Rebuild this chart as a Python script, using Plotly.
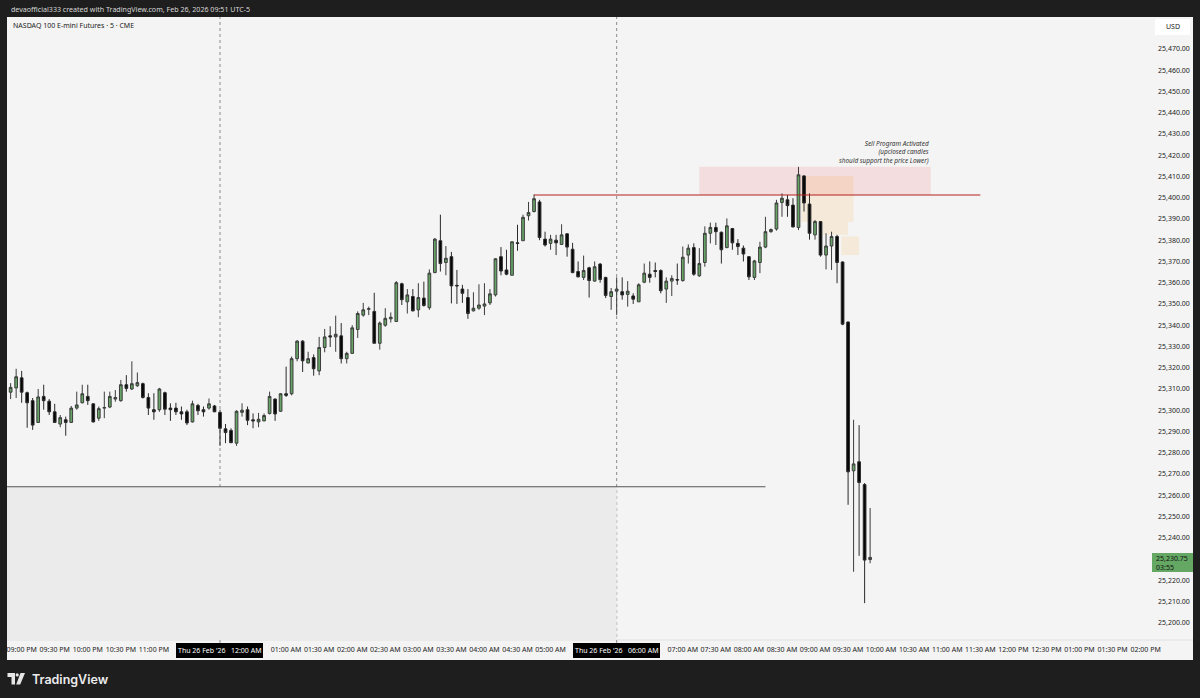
import pandas as pd
import plotly.graph_objects as go

# ---------------- data (NQ 5-minute bars) ----------------
start_time = "2026-02-25 20:45"
opens = [25307.75, 25308.5, 25310.5, 25315.25, 25308.25, 25304.5, 25294.25, 25306.5, 25304.25, 25299.25,
         25293.5, 25295.5, 25294.25, 25301.0, 25303.5, 25306.5, 25303.0, 25296.25, 25301.0, 25301.5,
         25305.25, 25304.5, 25312.0, 25310.0, 25311.5, 25312.5, 25306.0, 25300.25, 25300.25, 25308.25,
         25301.0, 25301.0, 25299.25, 25299.25, 25294.5, 25302.25, 25300.25, 25301.0, 25302.0,
         25299.0, 25291.25, 25290.5, 25284.5, 25299.0, 25300.25, 25295.5, 25294.5, 25295.0, 25298.5,
         25305.25, 25299.5, 25307.75, 25307.75, 25324.25, 25332.5, 25322.25, 25324.75, 25318.5, 25329.5,
         25335.0, 25334.5, 25335.0, 25324.25, 25326.75, 25338.0, 25344.75, 25347.5, 25346.5, 25331.5,
         25340.0, 25343.0, 25341.75, 25359.5, 25351.0, 25353.5, 25347.25, 25352.75, 25348.25, 25364.75,
         25379.75, 25369.5, 25372.25, 25358.75, 25357.0, 25353.0, 25346.75, 25348.0, 25349.0, 25350.5,
         25354.25, 25372.25, 25366.0, 25363.5, 25378.75, 25379.75, 25391.5, 25393.5, 25398.0, 25380.5,
         25378.5, 25380.0, 25378.0, 25383.0, 25375.75, 25365.25, 25362.5, 25367.0, 25360.75, 25368.75,
         25362.5, 25353.5, 25356.0, 25355.75, 25354.5, 25353.75, 25351.0, 25360.25, 25364.0, 25365.75,
         25365.75, 25357.0, 25360.75, 25361.5, 25361.0, 25373.0, 25376.5, 25363.25, 25369.5, 25383.25,
         25386.0, 25383.75, 25376.5, 25385.5, 25378.5, 25376.25, 25372.25, 25362.5, 25369.5, 25376.75,
         25384.0, 25385.25, 25397.75, 25399.0, 25396.5, 25386.0, 25410.25, 25397.0, 25382.5, 25388.75,
         25373.0, 25377.25, 25381.75, 25369.75, 25341.5, 25271.5, 25275.75, 25265.0, 25229.75]
highs = [25311.0, 25312.75, 25319.5, 25318.5, 25308.75, 25305.75, 25310.0, 25312.0, 25305.25, 25303.0,
         25297.75, 25297.0, 25302.0, 25308.75, 25312.0, 25312.0, 25303.25, 25301.75, 25308.75, 25308.75,
         25309.5, 25314.25, 25316.5, 25323.0, 25317.75, 25313.0, 25308.0, 25308.0, 25310.5, 25308.75,
         25303.25, 25303.5, 25301.75, 25300.25, 25304.5, 25303.0, 25301.75, 25305.5, 25302.5,
         25300.25, 25293.5, 25291.5, 25300.0, 25303.25, 25301.75, 25298.5, 25298.75, 25298.5, 25308.75,
         25305.5, 25308.0, 25320.5, 25325.25, 25333.0, 25333.0, 25327.5, 25326.25, 25334.5, 25338.25,
         25339.5, 25344.5, 25341.0, 25327.5, 25340.0, 25346.5, 25350.5, 25348.75, 25355.25, 25341.75,
         25348.0, 25346.0, 25360.75, 25360.0, 25357.0, 25357.0, 25359.75, 25360.5, 25366.25, 25381.0,
         25392.0, 25377.25, 25374.5, 25366.0, 25359.0, 25357.0, 25355.5, 25359.25, 25359.75, 25357.0,
         25371.5, 25376.75, 25375.5, 25379.25, 25387.25, 25392.0, 25398.0, 25401.5, 25399.0, 25384.0,
         25382.5, 25382.5, 25387.5, 25383.25, 25378.75, 25370.0, 25372.75, 25367.5, 25370.0, 25369.25,
         25362.75, 25357.5, 25362.5, 25362.5, 25360.75, 25355.0, 25359.75, 25369.0, 25370.0, 25369.5,
         25366.25, 25362.5, 25363.5, 25369.0, 25377.0, 25378.0, 25378.5, 25376.25, 25386.5, 25388.25,
         25388.25, 25384.0, 25390.25, 25385.75, 25380.5, 25377.5, 25372.5, 25370.75, 25379.25, 25391.0,
         25385.5, 25399.0, 25402.0, 25401.25, 25399.75, 25414.5, 25410.5, 25402.0, 25389.5, 25389.0,
         25383.25, 25384.0, 25382.5, 25370.0, 25341.75, 25295.5, 25293.0, 25265.75, 25254.0]
lows = [25306.0, 25305.25, 25305.75, 25303.5, 25291.75, 25290.75, 25294.25, 25300.25, 25297.75, 25294.0,
        25292.0, 25288.0, 25294.0, 25300.25, 25303.25, 25302.5, 25294.25, 25295.0, 25296.25, 25301.0,
        25304.0, 25304.0, 25308.75, 25309.5, 25311.0, 25305.5, 25297.75, 25295.5, 25299.25, 25297.75,
        25295.0, 25297.75, 25295.5, 25293.0, 25294.25, 25297.75, 25297.0, 25300.25, 25299.25,
        25283.25, 25284.5, 25284.5, 25283.25, 25297.0, 25293.0, 25291.5, 25292.0, 25294.75, 25298.0,
        25295.0, 25299.25, 25306.25, 25307.0, 25323.0, 25318.0, 25322.0, 25316.25, 25316.5, 25327.25,
        25329.75, 25327.5, 25322.0, 25322.0, 25326.5, 25334.0, 25344.0, 25344.75, 25331.5, 25328.5,
        25339.25, 25341.25, 25341.5, 25349.5, 25345.5, 25346.5, 25343.75, 25348.75, 25347.25, 25364.5,
        25365.25, 25363.5, 25350.25, 25350.0, 25350.5, 25343.0, 25346.5, 25347.25, 25344.75, 25349.5,
        25353.5, 25363.5, 25363.5, 25363.5, 25375.0, 25379.75, 25389.25, 25393.0, 25380.0, 25377.0,
        25375.5, 25373.0, 25377.75, 25372.25, 25364.5, 25362.5, 25361.25, 25353.0, 25360.5, 25360.0,
        25352.75, 25347.25, 25344.75, 25352.0, 25348.75, 25350.0, 25351.0, 25359.75, 25360.0, 25362.5,
        25355.0, 25350.5, 25353.75, 25359.0, 25360.5, 25369.0, 25363.25, 25362.75, 25367.5, 25378.5,
        25377.75, 25369.0, 25376.25, 25375.5, 25373.0, 25370.0, 25361.25, 25361.25, 25364.5, 25376.25,
        25383.5, 25384.5, 25391.0, 25391.0, 25386.0, 25384.75, 25393.5, 25380.25, 25380.25, 25372.25,
        25366.25, 25366.0, 25359.75, 25340.0, 25255.5, 25224.0, 25231.5, 25209.25, 25228.0]
closes = [25310.0, 25310.75, 25315.75, 25308.5, 25303.5, 25293.0, 25306.25, 25304.5, 25299.25, 25294.25,
          25296.5, 25294.25, 25301.0, 25302.5, 25307.75, 25304.5, 25294.5, 25300.75, 25301.25, 25306.5,
          25306.0, 25312.0, 25310.25, 25312.5, 25313.0, 25306.0, 25301.0, 25299.25, 25310.0, 25300.5,
          25300.25, 25299.25, 25298.25, 25294.0, 25303.0, 25299.75, 25299.25, 25303.0, 25299.25,
          25291.5, 25289.5, 25284.75, 25299.5, 25300.0, 25295.25, 25295.0, 25295.75, 25297.5, 25306.5,
          25298.25, 25307.75, 25307.0, 25324.25, 25332.5, 25323.25, 25324.25, 25319.5, 25329.5, 25334.5,
          25334.5, 25335.75, 25324.25, 25326.75, 25338.75, 25345.5, 25347.25, 25347.75, 25331.5, 25341.0,
          25343.25, 25343.75, 25360.0, 25352.0, 25354.25, 25346.75, 25353.0, 25349.25, 25364.5, 25380.5,
          25369.0, 25371.5, 25358.5, 25358.5, 25355.0, 25345.5, 25348.0, 25349.5, 25350.0, 25354.75,
          25371.25, 25365.5, 25364.0, 25379.25, 25378.5, 25390.75, 25393.0, 25399.5, 25381.25, 25377.75,
          25380.5, 25378.75, 25382.5, 25376.75, 25364.75, 25362.75, 25365.75, 25361.0, 25367.5, 25361.5,
          25354.0, 25355.75, 25357.0, 25354.25, 25356.0, 25352.25, 25359.0, 25364.5, 25362.5, 25365.25,
          25356.25, 25360.75, 25362.0, 25361.25, 25372.0, 25376.25, 25364.0, 25369.0, 25383.25, 25386.0,
          25384.0, 25375.5, 25386.75, 25378.75, 25377.0, 25373.5, 25362.75, 25370.25, 25376.75, 25384.0,
          25385.0, 25397.5, 25399.75, 25396.25, 25386.25, 25410.75, 25397.5, 25383.25, 25388.75, 25373.0,
          25377.25, 25381.75, 25369.5, 25340.5, 25271.0, 25274.75, 25266.0, 25229.5, 25230.75]

# price axis labels (25,480 is hidden under the USD box, 25,230 under the last-price tag)
price_ticks = [p for p in range(25200, 25480, 10) if p != 25230]
last_price = 25230.75
countdown = "03:55"

# drawings (price levels / time anchors)
level_high = 25401.25            # red horizontal line from the 04:45 high
session_line = 25264.0           # gray session line
sell_zone = (25401.25, 25414.5)  # pink box
peach_boxes = [("2026-02-26 08:47:30", "2026-02-26 09:35", 25388.5, 25410.25),
               ("2026-02-26 09:07", "2026-02-26 09:30", 25382.5, 25388.5),
               ("2026-02-26 09:24", "2026-02-26 09:40", 25373.0, 25381.75)]

times = pd.date_range(start_time, periods=len(opens), freq="5min")
# half-hour time labels; those under the black session-date tags are left out
hidden_times = ["2026-02-25 23:30", "2026-02-26 00:00", "2026-02-26 00:30",
                "2026-02-26 05:30", "2026-02-26 06:00", "2026-02-26 06:30"]
tick_times = [t for t in pd.date_range("2026-02-25 21:00", "2026-02-26 14:00", freq="30min")
              if t not in pd.to_datetime(hidden_times)]
tick_text = [t.strftime("%I:%M %p") for t in tick_times]

# ---------------- layout geometry ----------------
W, H = 1200, 698
L, R, T, B = 7, 1150, 17, 640


def pxx(x):
    return (x - L) / (R - L)


def pxy(y):
    return (B - y) / (B - T)


FONT = "Noto Sans"

fig = go.Figure()
fig.add_trace(go.Candlestick(
    x=times, open=opens, high=highs, low=lows, close=closes,
    increasing=dict(fillcolor="#66a466", line=dict(color="#3c3c3c", width=1)),
    decreasing=dict(fillcolor="#050505", line=dict(color="#2a2a2a", width=1)),
    whiskerwidth=0, hoverinfo="skip", showlegend=False,
))

shapes = []
# axis backgrounds (light) on dark frame
shapes.append(dict(type="rect", xref="paper", yref="paper", x0=1.0, x1=pxx(1193), y0=pxy(660), y1=1.0,
                   fillcolor="#f4f4f4", line_width=0, layer="below"))
shapes.append(dict(type="rect", xref="paper", yref="paper", x0=0, x1=pxx(1193), y0=pxy(660), y1=0,
                   fillcolor="#f4f4f4", line_width=0, layer="below"))
shapes.append(dict(type="line", xref="paper", yref="paper", x0=0, x1=pxx(1193), y0=0, y1=0,
                   line=dict(color="#e0e0e0", width=1), layer="below"))
# overnight session box
shapes.append(dict(type="rect", xref="x", yref="y", x0="2026-02-25 20:40", x1="2026-02-26 06:00",
                   y0=25180, y1=session_line, fillcolor="#ebebeb", line_width=0, layer="below"))
shapes.append(dict(type="line", xref="x", yref="y", x0="2026-02-25 20:40", x1="2026-02-26 08:15",
                   y0=session_line, y1=session_line, line=dict(color="#555555", width=1), layer="below"))
# session separators
for t in ["2026-02-26 00:00", "2026-02-26 06:00"]:
    shapes.append(dict(type="line", xref="x", yref="paper", x0=t, x1=t, y0=pxy(643), y1=1,
                       line=dict(color="#8a8a8a", width=1, dash="dot"), layer="below"))
# pink sell zone
shapes.append(dict(type="rect", xref="x", yref="y", x0="2026-02-26 07:15", x1="2026-02-26 10:45",
                   y0=sell_zone[0], y1=sell_zone[1], fillcolor="rgba(242,54,69,0.12)",
                   line_width=0, layer="below"))
for x0, x1, y0, y1 in peach_boxes:
    shapes.append(dict(type="rect", xref="x", yref="y", x0=x0, x1=x1, y0=y0, y1=y1,
                       fillcolor="rgba(255,152,0,0.11)", line_width=0, layer="below"))
# red level line
shapes.append(dict(type="line", xref="x", yref="y", x0="2026-02-26 04:45", x1="2026-02-26 11:30",
                   y0=level_high, y1=level_high, line=dict(color="#b3201f", width=1.2), layer="above"))
# USD box
shapes.append(dict(type="rect", xref="paper", yref="paper", x0=pxx(1155), x1=pxx(1190), y0=pxy(35), y1=pxy(19),
                   fillcolor="#ffffff", line_width=0, layer="above"))
# last price box
shapes.append(dict(type="rect", xref="paper", yref="paper", x0=pxx(1152), x1=pxx(1193), y0=pxy(572), y1=pxy(553),
                   fillcolor="#64a864", line_width=0, layer="above"))
# black date boxes on the time axis
for cx in [219, 616]:
    shapes.append(dict(type="rect", xref="paper", yref="paper", x0=pxx(cx - 43), x1=pxx(cx + 44),
                       y0=pxy(658), y1=pxy(643), fillcolor="#000000", line_width=0, layer="above"))
# TradingView logo
shapes.append(dict(type="rect", xref="paper", yref="paper", x0=pxx(7.5), x1=pxx(15), y0=pxy(677), y1=pxy(673),
                   fillcolor="#e6e6e6", line_width=0, layer="above"))
shapes.append(dict(type="rect", xref="paper", yref="paper", x0=pxx(11.5), x1=pxx(15), y0=pxy(684.5), y1=pxy(673),
                   fillcolor="#e6e6e6", line_width=0, layer="above"))
shapes.append(dict(type="circle", xref="paper", yref="paper", x0=pxx(15.6), x1=pxx(18.8), y0=pxy(676.6), y1=pxy(673.2),
                   fillcolor="#e6e6e6", line_width=0, layer="above"))
shapes.append(dict(type="path", xref="paper", yref="paper",
                   path=f"M {pxx(20.5)} {pxy(673)} L {pxx(25)} {pxy(673)} L {pxx(20.2)} {pxy(684.5)} L {pxx(16.2)} {pxy(684.5)} Z",
                   fillcolor="#e6e6e6", line_width=0, layer="above"))

annotations = []
annotations.append(dict(xref="paper", yref="paper", x=pxx(9), y=pxy(8.5), xanchor="left", yanchor="middle",
                        text="devaofficial333 created with TradingView.com, Feb 26, 2026 09:51 UTC-5",
                        showarrow=False, font=dict(family=FONT, size=7.1, color="#d8d8d8")))
annotations.append(dict(xref="paper", yref="paper", x=pxx(11), y=pxy(25), xanchor="left", yanchor="middle",
                        text="NASDAQ 100 E-mini Futures · 5 · CME", showarrow=False,
                        font=dict(family=FONT, size=7, color="#222222")))
annotations.append(dict(xref="x", yref="y", x="2026-02-26 10:45", y=25414.6, xanchor="right", yanchor="bottom",
                        text="<i>Sell Program Activated<br>(upclosed candles<br>should support the price Lower)</i>",
                        align="right", showarrow=False,
                        font=dict(family=FONT, size=6.4, color="#333333")))
annotations.append(dict(xref="paper", yref="paper", x=pxx(1172.5), y=pxy(27), xanchor="center", yanchor="middle",
                        text="USD", showarrow=False, font=dict(family=FONT, size=7, color="#222222")))
annotations.append(dict(xref="paper", yref="paper", x=pxx(1154), y=pxy(562.5), xanchor="left", yanchor="middle",
                        text=f"{last_price:,.2f}<br>{countdown}", align="left", showarrow=False,
                        font=dict(family=FONT, size=7, color="#111111")))
for cx, label in [(219, "Thu 26 Feb '26\u00a0\u00a0\u00a012:00 AM"), (616, "Thu 26 Feb '26\u00a0\u00a0\u00a006:00 AM")]:
    annotations.append(dict(xref="paper", yref="paper", x=pxx(cx), y=pxy(650.5), xanchor="center", yanchor="middle",
                            text=label, showarrow=False, font=dict(family=FONT, size=7, color="#ffffff")))
annotations.append(dict(xref="paper", yref="paper", x=pxx(29.5), y=pxy(679), xanchor="left", yanchor="middle",
                        text="TradingView", showarrow=False,
                        font=dict(family="Inter", size=12.5, color="#ececec", weight=600)))

fig.update_layout(
    width=W, height=H,
    margin=dict(l=L, r=W - R, t=T, b=H - B, pad=0),
    paper_bgcolor="#1e1e1e",
    plot_bgcolor="#f4f4f4",
    shapes=shapes,
    annotations=annotations,
    showlegend=False,
    hovermode=False,
    xaxis=dict(
        type="date",
        range=["2026-02-25 20:46:42", "2026-02-26 14:04"],
        rangeslider=dict(visible=False),
        showgrid=False, zeroline=False, showline=False,
        tickmode="array", tickvals=tick_times, ticktext=tick_text,
        ticks="", ticklabelstandoff=4,
        tickfont=dict(family=FONT, size=7, color="#222222"),
    ),
    yaxis=dict(
        side="right",
        range=[25191.9, 25485.0],
        showgrid=False, zeroline=False, showline=False,
        tickmode="array", tickvals=price_ticks, ticktext=[f"{v:,.2f}" for v in price_ticks],
        ticks="", ticklabelstandoff=7,
        tickfont=dict(family=FONT, size=7, color="#222222"),
    ),
)

fig.write_html(
    "out.html",
    config={"displayModeBar": False},
    post_script="document.body.style.margin='0';document.body.style.background='#1e1e1e';",
)
